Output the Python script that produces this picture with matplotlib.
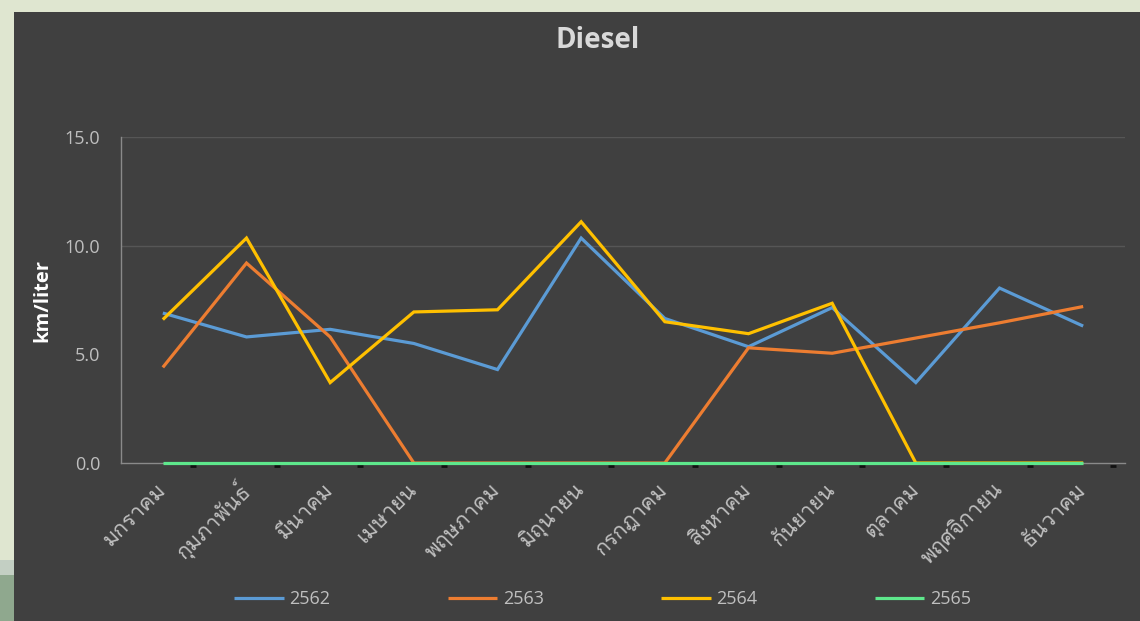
import matplotlib
matplotlib.use("Agg")
import matplotlib.pyplot as plt
from matplotlib import font_manager
from matplotlib.patches import Rectangle
import numpy as np

# ---------------- data ----------------
months = ["มกราคม", "กุมภาพันธ์", "มีนาคม", "เมษายน", "พฤษภาคม", "มิถุนายน",
          "กรกฎาคม", "สิงหาคม", "กันยายน", "ตุลาคม", "พฤศจิกายน", "ธันวาคม"]
years = ["2562", "2563", "2564", "2565"]
v2562 = [6.9, 5.8, 6.15, 5.5, 4.3, 10.35, 6.65, 5.35, 7.15, 3.7, 8.05, 6.3]
v2563 = [4.4, 9.2, 5.8, 0.0, 0.0, 0.0, 0.0, 5.3, 5.05, 5.75, 6.45, 7.2]
v2564 = [6.6, 10.35, 3.7, 6.95, 7.05, 11.1, 6.5, 5.95, 7.35, 0.0, 0.0, 0.0]
v2565 = [0.0] * 12
yticks = [0.0, 5.0, 10.0, 15.0]
title = "Diesel"
ylabel = "km/liter"

colors = ["#5B9BD5", "#ED7D31", "#FFC000", "#5EE88C"]

# ---------------- fonts ----------------
thai_fams = []
try:
    from fontTools.ttLib import TTFont
    seen = set()
    for f in font_manager.fontManager.ttflist:
        if f.fname in seen:
            continue
        seen.add(f.fname)
        try:
            tt = TTFont(f.fname, fontNumber=0, lazy=True)
            cmap = tt.getBestCmap()
            if cmap and 0x0E01 in cmap and f.name not in thai_fams:
                thai_fams.append(f.name)
        except Exception:
            pass
except Exception:
    pass

base = "Open Sans"
plt.rcParams['font.family'] = [base, "DejaVu Sans"]
thai_family = thai_fams + [base, "DejaVu Sans"]

W, H = 1140, 621
fig = plt.figure(figsize=(W / 100, H / 100), dpi=100, facecolor="#DFE6D0")

# dark panel and left strip colours
fig.patches.append(Rectangle((14 / W, 0), 1 - 14 / W, 1 - 12 / H, transform=fig.transFigure,
                             facecolor="#404040", edgecolor="none", zorder=-10))
fig.patches.append(Rectangle((0, 1 - 575 / H), 14 / W, 15 / H, transform=fig.transFigure,
                             facecolor="#C3CFC3", edgecolor="none", zorder=-10))
fig.patches.append(Rectangle((0, 0), 14 / W, 1 - 575 / H, transform=fig.transFigure,
                             facecolor="#8FA88E", edgecolor="none", zorder=-10))

ax = fig.add_axes([121 / W, 1 - 463 / H, (1125 - 121) / W, (463 - 137) / H])
ax.set_facecolor("none")

x = np.arange(len(months))
series = [v2562, v2563, v2564, v2565]
for vals, lab, c in zip(series, years, colors):
    ax.plot(x, vals, color=c, lw=2.3, label=lab, solid_capstyle="butt",
            solid_joinstyle="miter", zorder=3, clip_on=False)

ax.set_xlim(-0.5, len(months) - 0.5)
ax.set_ylim(0, 15)

# gridlines (only at 10 and 15)
for g in [10.0, 15.0]:
    ax.axhline(g, color="#565656", lw=1.0, zorder=1)

for s in ["top", "right"]:
    ax.spines[s].set_visible(False)
ax.spines["left"].set_color("#8A8A8A")
ax.spines["bottom"].set_color("#8A8A8A")
ax.spines["left"].set_linewidth(1.0)
ax.spines["bottom"].set_linewidth(1.0)

ax.set_yticks(yticks)
ax.set_yticklabels([f"{t:.1f}" for t in yticks])
ax.tick_params(axis="y", length=0, pad=15, labelsize=13, labelcolor="#BFBFBF")

ax.set_xticks(x)
ax.set_xticklabels(months, family=thai_family, fontsize=15.5, color="#BFBFBF",
                   rotation=45, ha="right", va="center", rotation_mode="anchor")
ax.tick_params(axis="x", length=0, pad=17)

# small dark tick dashes under the axis
ax.plot(x + 0.36, [-0.12] * len(x), ls="none", marker="_", ms=5, mew=2,
        color="#111111", clip_on=False, zorder=2)

ax.set_ylabel(ylabel, fontsize=14.5, fontweight="bold", color="white")
ax.yaxis.set_label_coords((52 - 121) / (1125 - 121), (463 - 300) / (463 - 137))

fig.text(598 / W, 1 - 41 / H, title, ha="center", va="center", fontsize=20,
         fontweight="bold", color="#D9D9D9")

leg = fig.legend(loc="center", bbox_to_anchor=(602.5 / W, 1 - 599 / H), ncol=4,
                 frameon=False, fontsize=13, labelcolor="#BFBFBF",
                 handlelength=2.75, handletextpad=0.3, columnspacing=6.5)
for ln in leg.get_lines():
    ln.set_linewidth(2.3)

fig.savefig("out.png", dpi=100, facecolor=fig.get_facecolor())
